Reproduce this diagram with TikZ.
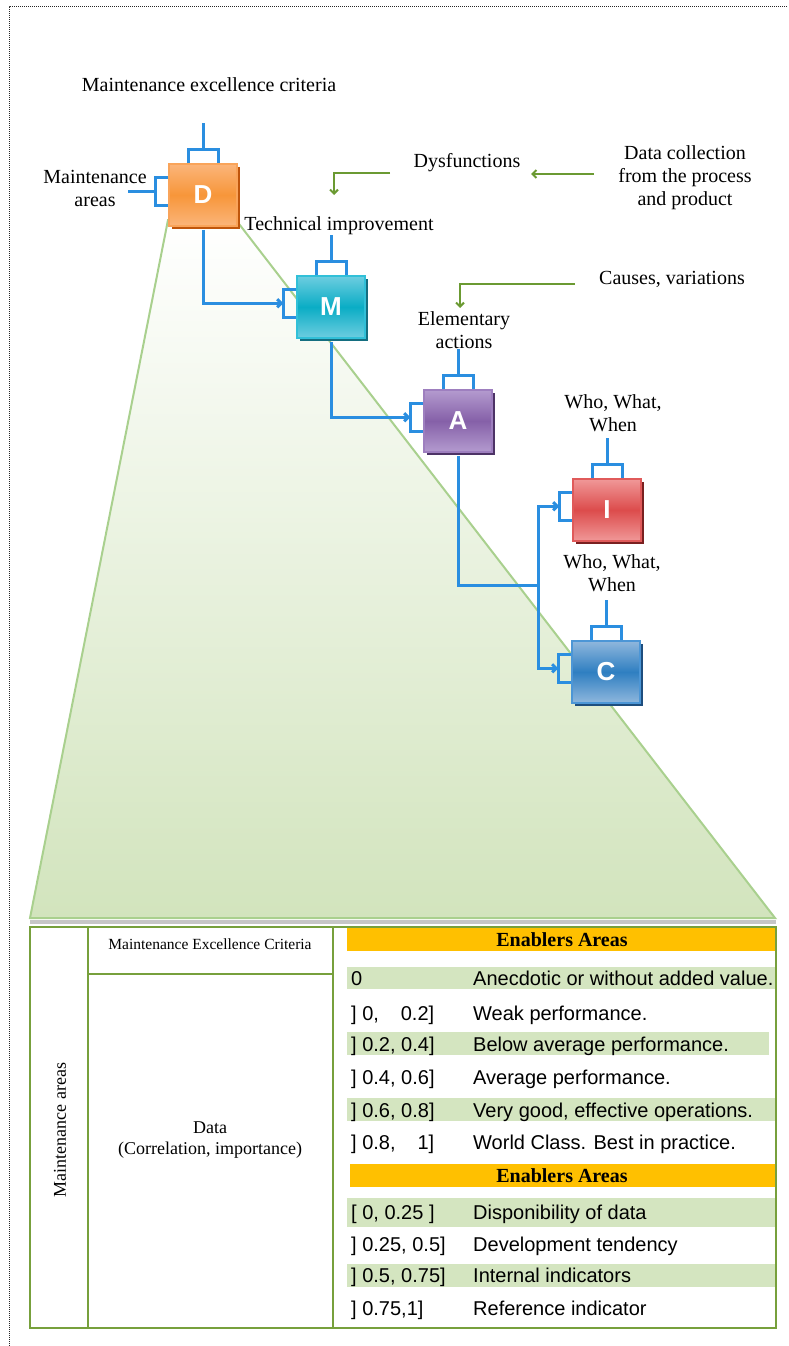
\documentclass[tikz,border=0pt]{standalone}
\usepackage{fontspec}
\setmainfont{Liberation Serif}
\newfontfamily\arialf{Liberation Sans}
\usetikzlibrary{arrows.meta,calc,shadows}
\definecolor{connc}{HTML}{2A8EE0}
\definecolor{grc}{HTML}{6B9A32}
\definecolor{trapG}{HTML}{D2E4BD}
\definecolor{trapL}{HTML}{A9D08E}
\definecolor{tline}{HTML}{77A03C}
\definecolor{bandg}{HTML}{D4E5C0}
\definecolor{hdr}{HTML}{FFC000}
\definecolor{Dl}{HTML}{FBB57A}\definecolor{Dm}{HTML}{F7963A}\definecolor{Db}{HTML}{F9A45A}\definecolor{Ds}{HTML}{C0560C}
\definecolor{Ml}{HTML}{6DCDE0}\definecolor{Mm}{HTML}{0AADC5}\definecolor{Mb}{HTML}{31C0D8}\definecolor{Ms}{HTML}{146E80}
\definecolor{Al}{HTML}{B49BCF}\definecolor{Am}{HTML}{8560A8}\definecolor{Ab}{HTML}{9E7FBF}\definecolor{As}{HTML}{4D3366}
\definecolor{Il}{HTML}{F09898}\definecolor{Im}{HTML}{DC4C4C}\definecolor{Ib}{HTML}{E05A5A}\definecolor{Is}{HTML}{7A2020}
\definecolor{Cl}{HTML}{8FB7DD}\definecolor{Cm}{HTML}{2F7FC1}\definecolor{Cb}{HTML}{4C96D6}\definecolor{Cs}{HTML}{1E4E7E}
\newcommand{\boxbr}[1]{%
  \draw[connl] ($(#1.north)+(-15,0)$) -- ++(0,-14) -- ++(30,0) -- ++(0,14);
  \draw[connl] ($(#1.north)+(0,-14)$) -- ++(0,-26);
  \draw[connl] ($(#1.north west)+(0,14)$) -- ++(-13,0) -- ++(0,28) -- ++(13,0);
  \coordinate (#1in) at ($(#1.north west)+(-13,28)$);
}
\begin{document}
\begin{tikzpicture}[x=1pt,y=-1pt,
  connl/.style={draw=connc,line width=3pt},
  carrow/.style={connl,-{Straight Barb[length=4pt,width=8pt]}},
  garrow/.style={draw=grc,line width=2pt,-{Straight Barb[length=4pt,width=8pt]}},
  lbl/.style={font=\fontsize{20}{23}\selectfont,align=center,inner sep=0pt},
  pbox/.style={minimum width=68pt,minimum height=62pt,inner sep=0pt,line width=1.5pt,
     font=\arialf\bfseries\fontsize{26}{26}\selectfont,text=white},
  tl/.style={draw=tline,line width=2pt},
  rowt/.style={anchor=base west,inner sep=0pt,font=\arialf\fontsize{20}{24}\selectfont},
  hdrt/.style={inner sep=0pt,font=\bfseries\fontsize{20}{24}\selectfont},
]
\useasboundingbox (0,0) rectangle (788,1346);
% dotted frame
\draw[black!85,line width=1pt,dash pattern=on 1pt off 1pt] (9,1346) -- (9,7) -- (788,7);
% trapezoid
\draw[gray!45,line width=4pt] (30,922) -- (776,922);
\path[top color=white,bottom color=trapG,draw=trapL,line width=2pt]
  (168,220) -- (236,220) -- (775,918) -- (30,918) -- cycle;
% boxes
\node[pbox,draw=Db,top color=Dl,bottom color=Dl,middle color=Dm,
  general shadow={fill=Ds,shadow xshift=3pt,shadow yshift=-3pt}] (D) at (203,195) {D};
\node[pbox,draw=Mb,top color=Ml,bottom color=Ml,middle color=Mm,
  general shadow={fill=Ms,shadow xshift=3pt,shadow yshift=-3pt}] (M) at (331,307) {M};
\node[pbox,draw=Ab,top color=Al,bottom color=Al,middle color=Am,
  general shadow={fill=As,shadow xshift=3pt,shadow yshift=-3pt}] (A) at (458,421) {A};
\node[pbox,draw=Ib,top color=Il,bottom color=Il,middle color=Im,
  general shadow={fill=Is,shadow xshift=3pt,shadow yshift=-3pt}] (I) at (607,510) {I};
\node[pbox,draw=Cb,top color=Cl,bottom color=Cl,middle color=Cm,
  general shadow={fill=Cs,shadow xshift=3pt,shadow yshift=-3pt}] (C) at (606,672) {C};
\boxbr{D}\boxbr{M}\boxbr{A}\boxbr{I}\boxbr{C}
% connectors
\path let \p1=(Din) in coordinate (Dleft) at (128pt,\y1);
\draw[connl] (Dleft) -- (Din);
\draw[carrow] ($(D.south)+(0,3)$) |- (Min);
\draw[carrow] ($(M.south)+(0,3)$) |- (Ain);
\coordinate (Jn) at (538,585);
\draw[connl] ($(A.south)+(0,3)$) |- (Jn);
\draw[carrow] (Jn) |- (Iin);
\draw[carrow] (Jn) |- (Cin);
% labels
\node[lbl] (mec) at (209,85) {Maintenance excellence criteria};
\node[lbl] (mar) at (95,188) {Maintenance\\areas};
\node[lbl] (tec) at (339,226) {Technical improvement};
\node[lbl] (dys) at (467,163) {Dysfunctions};
\node[lbl] (dat) at (685,178) {Data collection\\from the process\\and product};
\node[lbl] (cau) at (672,279) {Causes, variations};
\node[lbl] (ela) at (464,330) {Elementary\\actions};
\node[lbl] (wi) at (613,413) {Who, What,\\When};
\node[lbl] (wc) at (612,573) {Who, What,\\When};
% green arrows
\coordinate (g1s) at (390,173); \coordinate (g1t) at (334,195);
\draw[garrow] (g1s) -| (g1t);
\coordinate (g2s) at (594,174); \coordinate (g2t) at (531,174);
\draw[garrow] (g2s) -- (g2t);
\coordinate (g3s) at (575,284); \coordinate (g3t) at (460,308);
\draw[garrow] (g3s) -| (g3t);
% table
\fill[white] (30,927) rectangle (776,1328);
\fill[hdr] (347,927) rectangle (776,951);
\fill[hdr] (350,1164) rectangle (776,1187);
\fill[bandg] (347,967) rectangle (776,989);
\fill[bandg] (347,1032) rectangle (769,1055);
\fill[bandg] (347,1098) rectangle (776,1121);
\fill[bandg] (347,1198) rectangle (776,1227);
\fill[bandg] (347,1264) rectangle (776,1287);
\draw[tl] (30,927) rectangle (776,1328);
\draw[tl] (88,927) -- (88,1328);
\draw[tl] (333,927) -- (333,1328);
\draw[tl] (88,974) -- (333,974);
\node[rotate=90,inner sep=0pt,font=\fontsize{18}{22}\selectfont] (tma) at (60,1130) {Maintenance areas};
\node[inner sep=0pt,font=\fontsize{15.5}{18}\selectfont] (tmec) at (210,944) {Maintenance Excellence Criteria};
\node[inner sep=0pt,align=center,font=\fontsize{18}{21}\selectfont] (tdat) at (210,1140) {Data\\(Correlation, importance)};
\node[hdrt] (h1) at (562,940) {Enablers Areas};
\node[hdrt] (h2) at (562,1176) {Enablers Areas};
\node[rowt] (n0) at (351,985) {0};
\node[rowt] (d0) at (473,985) {Anecdotic or without added value.};
\node[rowt] (n1) at (351,1020) {\makebox[83pt][l]{] 0,\hfill 0.2]}};
\node[rowt] (d1) at (473,1020) {Weak performance.};
\node[rowt] (n2) at (351,1051) {\makebox[83pt][l]{] 0.2, 0.4]}};
\node[rowt] (d2) at (473,1051) {Below average performance.};
\node[rowt] (n3) at (351,1084) {\makebox[83pt][l]{] 0.4, 0.6]}};
\node[rowt] (d3) at (473,1084) {Average performance.};
\node[rowt] (n4) at (351,1117) {\makebox[83pt][l]{] 0.6, 0.8]}};
\node[rowt] (d4) at (473,1117) {Very good, effective operations.};
\node[rowt] (n5) at (351,1149) {\makebox[83pt][l]{] 0.8,\hfill 1]}};
\node[rowt] (d5) at (473,1149) {World Class. Best in practice.};
\node[rowt] (n6) at (351,1219) {[ 0, 0.25 ]};
\node[rowt] (d6) at (473,1219) {Disponibility of data};
\node[rowt] (n7) at (351,1251) {] 0.25, 0.5]};
\node[rowt] (d7) at (473,1251) {Development tendency};
\node[rowt] (n8) at (351,1282) {] 0.5, 0.75]};
\node[rowt] (d8) at (473,1282) {Internal indicators};
\node[rowt] (n9) at (351,1315) {] 0.75,1]};
\node[rowt] (d9) at (473,1315) {Reference indicator};
\end{tikzpicture}
\end{document}
